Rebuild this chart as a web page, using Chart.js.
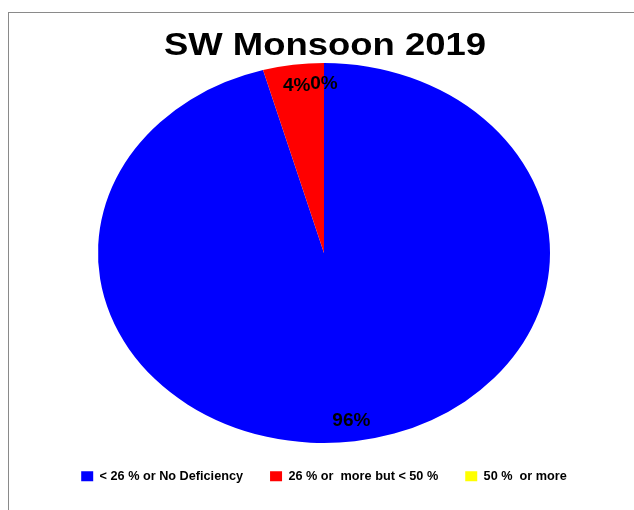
<!DOCTYPE html>
<html>
<head>
<meta charset="utf-8">
<title>SW Monsoon 2019</title>
<script src="https://cdn.jsdelivr.net/npm/chart.js"></script>
<style>
  html, body { margin: 0; padding: 0; background: #fff; overflow: hidden; }
  #frame {
    position: absolute; left: 8px; top: 12px; width: 700px; height: 600px;
    border: 1px solid #8a8a8a; pointer-events: none;
  }
  #chart { position: absolute; left: 0; top: 0; }
</style>
</head>
<body>
<div id="frame"></div>
<canvas id="chart" width="634" height="510"></canvas>
<script>
const titleText = 'SW Monsoon 2019';
const categories = ['< 26 % or No Deficiency', '26 % or  more but < 50 %', '50 %  or more'];
const counts = [22, 1, 0];
const colors = ['#0000ff', '#ff0000', '#ffff00'];

const stretchX = 226 / 190; // the pie in the picture is an ellipse

// stretch the pie sideways around its centre
const ellipsePlugin = {
  id: 'ellipse',
  beforeDatasetsDraw(chart) {
    const arc = chart.getDatasetMeta(0).data[0];
    const ctx = chart.ctx;
    ctx.save();
    ctx.translate(arc.x, arc.y);
    ctx.scale(stretchX, 1);
    ctx.translate(-arc.x, -arc.y);
  },
  afterDatasetsDraw(chart) {
    const ctx = chart.ctx;
    ctx.restore();

    // percent labels
    const total = counts.reduce((a, b) => a + b, 0);
    ctx.save();
    ctx.font = 'bold 19px "Liberation Sans", Arial, sans-serif';
    ctx.fillStyle = '#000';
    ctx.textAlign = 'center';
    ctx.textBaseline = 'middle';
    chart.getDatasetMeta(0).data.forEach((arc, i) => {
      const mid = (arc.startAngle + arc.endAngle) / 2;
      const r = arc.outerRadius * 0.89;
      const x = arc.x + stretchX * r * Math.cos(mid);
      const y = arc.y + r * Math.sin(mid);
      ctx.fillText(Math.round(counts[i] / total * 100) + '%', x, y);
    });
    ctx.restore();
  }
};

// wide title, drawn by hand so it can be stretched like the picture
const titlePlugin = {
  id: 'wideTitle',
  afterDraw(chart) {
    const ctx = chart.ctx;
    ctx.save();
    ctx.font = 'bold 31px "Liberation Sans", Arial, sans-serif';
    ctx.fillStyle = '#000';
    ctx.textAlign = 'center';
    ctx.textBaseline = 'alphabetic';
    ctx.translate(325, 55);
    ctx.scale(1.176, 1);
    ctx.fillText(titleText, 0, 0);
    ctx.restore();
  }
};

const ctx = document.getElementById('chart').getContext('2d');
new Chart(ctx, {
  type: 'pie',
  data: {
    labels: categories,
    datasets: [{
      data: counts,
      backgroundColor: colors,
      borderWidth: 0
    }]
  },
  options: {
    responsive: false,
    animation: false,
    events: [],
    layout: {
      padding: { top: 63, left: 14, right: 0, bottom: 17.3 }
    },
    plugins: {
      tooltip: { enabled: false },
      title: { display: false },
      legend: {
        position: 'bottom',
        labels: {
          boxWidth: 12,
          boxHeight: 10,
          padding: 27,
          color: '#000',
          font: { family: '"Liberation Sans", Arial, sans-serif', size: 12.7, weight: 'bold' }
        }
      }
    }
  },
  plugins: [ellipsePlugin, titlePlugin]
});
</script>
</body>
</html>
